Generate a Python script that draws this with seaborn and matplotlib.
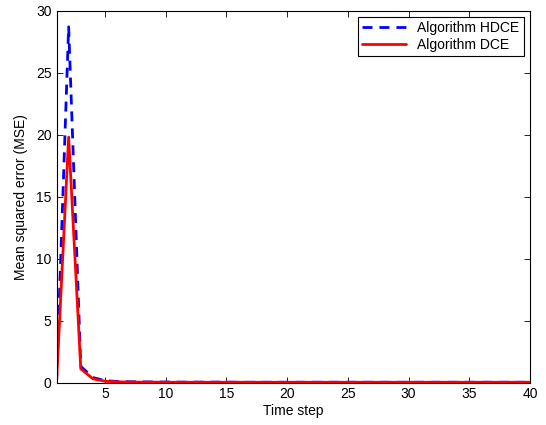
import numpy as np
import pandas as pd
import seaborn as sns
from matplotlib import pyplot as plt

sns.set_style('ticks')
plt.rcParams['font.family'] = ['Liberation Sans', 'DejaVu Sans']
plt.rcParams['text.color'] = 'black'
plt.rcParams['axes.labelcolor'] = 'black'
plt.rcParams['xtick.color'] = 'black'
plt.rcParams['ytick.color'] = 'black'

time_step = list(range(1, 41))
mse_hdce = [0.0, 28.7, 1.3, 0.4, 0.15, 0.08, 0.06, 0.05, 0.04, 0.04,
            0.03, 0.03, 0.03, 0.03, 0.03, 0.02, 0.02, 0.02, 0.02, 0.02,
            0.02, 0.02, 0.02, 0.02, 0.02, 0.02, 0.02, 0.02, 0.02, 0.02,
            0.02, 0.02, 0.02, 0.02, 0.02, 0.02, 0.02, 0.02, 0.02, 0.02]
mse_dce = [0.0, 19.8, 1.1, 0.3, 0.1, 0.05, 0.04, 0.03, 0.03, 0.02,
           0.02, 0.02, 0.02, 0.02, 0.02, 0.02, 0.02, 0.02, 0.02, 0.02,
           0.02, 0.02, 0.02, 0.02, 0.02, 0.02, 0.02, 0.02, 0.02, 0.02,
           0.02, 0.02, 0.02, 0.02, 0.02, 0.02, 0.02, 0.02, 0.02, 0.02]

df = pd.DataFrame({'Time step': time_step * 2,
                   'MSE': mse_hdce + mse_dce,
                   'alg': ['Algorithm HDCE'] * 40 + ['Algorithm DCE'] * 40})

fig = plt.figure(figsize=(5.46, 4.25), dpi=100)
ax = fig.add_axes([0.1035, 0.1, 0.867, 0.8748])

# dash lengths are in units of linewidth (points)
sns.lineplot(data=df, x='Time step', y='MSE', hue='alg', style='alg',
             palette={'Algorithm HDCE': '#0000ff', 'Algorithm DCE': '#ff0000'},
             dashes={'Algorithm HDCE': (3.6, 2.5), 'Algorithm DCE': ''},
             linewidth=2, ax=ax)

ax.set_xlim(1, 40)
ax.set_ylim(0, 30)
ax.set_xticks(np.arange(5, 41, 5))
ax.set_yticks(np.arange(0, 31, 5))
ax.tick_params(direction='in', top=True, right=True, labelsize=10, length=4, width=0.6)
for s in ax.spines.values():
    s.set_visible(True)
    s.set_linewidth(0.8)
    s.set_color('black')
ax.set_xlabel('Time step', fontsize=10, labelpad=2)
ax.set_ylabel('Mean squared error (MSE)', fontsize=10, labelpad=6)

leg = ax.legend(loc='upper right', fontsize=10, frameon=True, fancybox=False,
                edgecolor='black', framealpha=1, borderaxespad=0.45,
                handlelength=3.17, labelspacing=0.2, borderpad=0.3)
leg.get_frame().set_linewidth(0.8)

plt.savefig('out.png', dpi=100)
